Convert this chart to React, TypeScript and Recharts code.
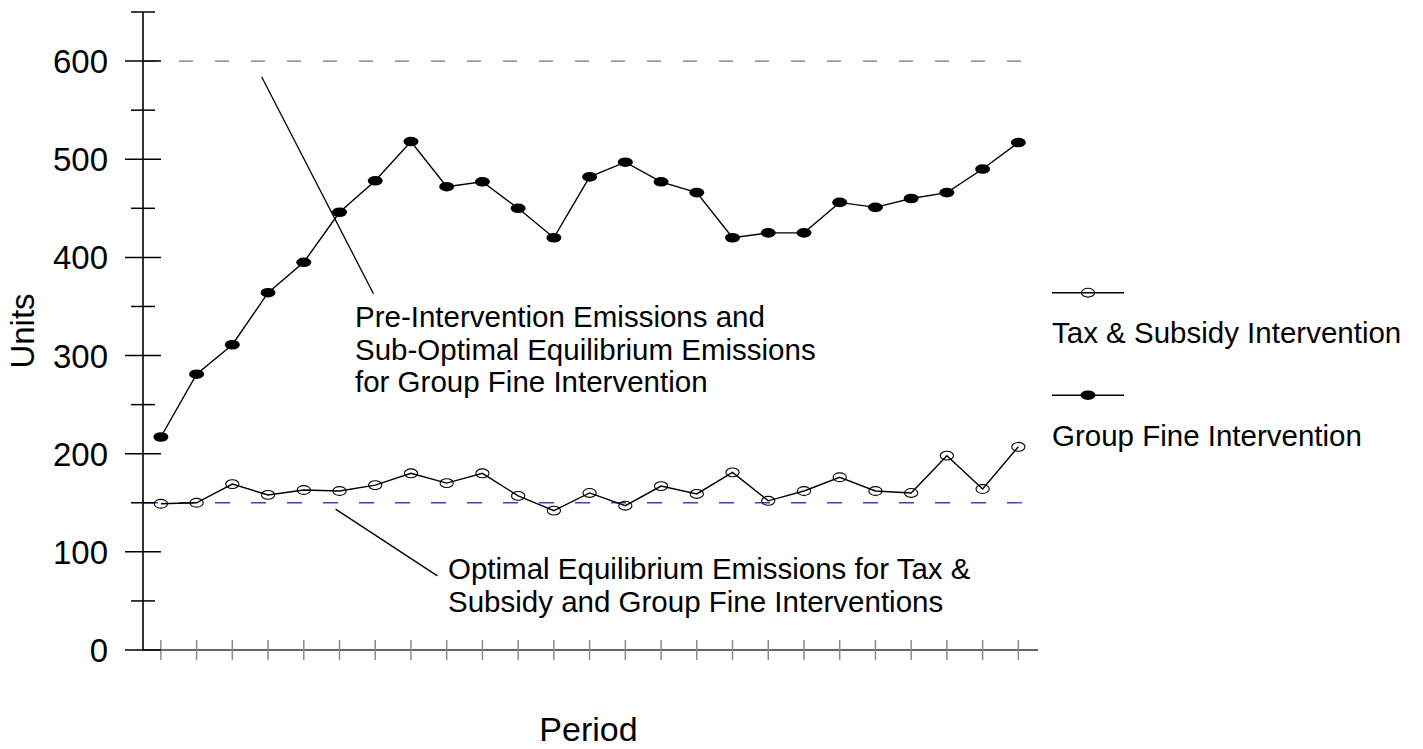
import React from "react";
import {
  LineChart,
  Line,
  XAxis,
  YAxis,
  ReferenceLine,
  Legend,
} from "recharts";

// values
const PERIODS = [
  1, 2, 3, 4, 5, 6, 7, 8, 9, 10, 11, 12, 13, 14, 15, 16, 17, 18, 19, 20, 21,
  22, 23, 24, 25,
];
const TAX_SUBSIDY = [
  149, 150, 169, 158, 163, 162, 168, 180, 170, 180, 157, 142, 160, 147, 167,
  159, 181, 152, 162, 176, 162, 160, 198, 164, 207,
];
const GROUP_FINE = [
  217, 281, 311, 364, 395, 446, 478, 518, 472, 477, 450, 420, 482, 497, 477,
  466, 420, 425, 425, 456, 451, 460, 466, 490, 517,
];
const Y_TICKS = [0, 50, 100, 150, 200, 250, 300, 350, 400, 450, 500, 550, 600, 650];
const PRE_INTERVENTION = 600;
const OPTIMAL_EQUILIBRIUM = 150;

const FONT = "'Liberation Sans', Arial, Helvetica, sans-serif";
const BLUE_DASH = "#3c3cc4";
const GREY_DASH = "#737373";

const data = PERIODS.map((p, i) => ({
  period: p,
  tax: TAX_SUBSIDY[i],
  fine: GROUP_FINE[i],
}));

const SERIES = [
  { key: "tax", name: "Tax & Subsidy Intervention", filled: false },
  { key: "fine", name: "Group Fine Intervention", filled: true },
];

function Marker({ cx, cy, filled }: any) {
  if (cx == null || cy == null) return null;
  return filled ? (
    <ellipse cx={cx} cy={cy} rx={7.5} ry={4.8} fill="#000" />
  ) : (
    <ellipse cx={cx} cy={cy} rx={6.6} ry={4.4} fill="none" stroke="#000" strokeWidth={1.1} />
  );
}

function YTick({ x, y, payload }: any) {
  const v = payload.value;
  const major = v % 100 === 0 && v <= 600;
  const half = major ? 18 : 12;
  return (
    <g>
      <line x1={x - half} x2={x + half} y1={y} y2={y} stroke="#000" strokeWidth={1.5} />
      {major && (
        <text
          x={x - 35}
          y={y + 12}
          textAnchor="end"
          fontSize={33}
          fontFamily={FONT}
          fill="#000"
        >
          {v}
        </text>
      )}
    </g>
  );
}

function XTick({ x, y }: any) {
  return <line x1={x} x2={x} y1={y - 10} y2={y + 10} stroke="#8a8a8a" strokeWidth={1.5} />;
}

function renderLegend() {
  return (
    <svg width={383} height={200}>
      {SERIES.map((s, i) => {
        const ly = 22.7 + i * 102.5;
        return (
          <g key={s.key}>
            <line x1={12} x2={84} y1={ly} y2={ly} stroke="#000" strokeWidth={1.4} />
            <Marker cx={48} cy={ly} filled={s.filled} />
            <text x={12} y={ly + 50.5} fontSize={29.5} fontFamily={FONT} fill="#000">
              {s.name}
            </text>
          </g>
        );
      })}
    </svg>
  );
}

export default function App() {
  return (
    <div style={{ position: "absolute", left: 0, top: 0, background: "#fff" }}>
      <LineChart
        width={1423}
        height={749}
        data={data}
        margin={{ top: 12, right: 385, left: 0, bottom: 0 }}
      >
        <XAxis
          dataKey="period"
          type="number"
          domain={[0.5, 25.55]}
          ticks={PERIODS}
          interval={0}
          tickSize={0}
          tickMargin={0}
          tick={<XTick />}
          height={99}
          axisLine={{ stroke: "#333", strokeWidth: 1.6 }}
          label={(props: any) => {
            const vb = props.viewBox;
            return (
              <text
                x={vb.x + vb.width / 2 - 2}
                y={vb.y + 91}
                textAnchor="middle"
                fontSize={34}
                fontFamily={FONT}
                fill="#000"
              >
                Period
              </text>
            );
          }}
        />
        <YAxis
          type="number"
          domain={[0, 650]}
          ticks={Y_TICKS}
          interval={0}
          width={143}
          tickSize={0}
          tickMargin={0}
          tick={<YTick />}
          axisLine={{ stroke: "#000", strokeWidth: 1.6 }}
          label={(props: any) => {
            const vb = props.viewBox;
            const cx = vb.x + 22;
            const cy = vb.y + vb.height / 2;
            return (
              <text
                x={cx}
                y={cy}
                transform={`rotate(-90 ${cx} ${cy})`}
                textAnchor="middle"
                dominantBaseline="central"
                fontSize={33}
                fontFamily={FONT}
                fill="#000"
              >
                Units
              </text>
            );
          }}
        />
        <ReferenceLine
          y={PRE_INTERVENTION}
          stroke={GREY_DASH}
          strokeWidth={1.3}
          strokeDasharray="14 22"
        />
        <ReferenceLine
          y={OPTIMAL_EQUILIBRIUM}
          stroke={BLUE_DASH}
          strokeWidth={1.3}
          strokeDasharray="15 21"
        />
        {/* annotation leader lines */}
        <ReferenceLine
          segment={[
            { x: 3.82, y: 584 },
            { x: 6.95, y: 363 },
          ]}
          stroke="#000"
          strokeWidth={1.3}
        />
        <ReferenceLine
          segment={[
            { x: 5.89, y: 143.5 },
            { x: 8.74, y: 75.5 },
          ]}
          stroke="#000"
          strokeWidth={1.3}
        />
        {SERIES.map((s) => (
          <Line
            key={s.key}
            dataKey={s.key}
            name={s.name}
            type="linear"
            stroke="#000"
            strokeWidth={1.4}
            dot={(p: any) => <Marker key={p.index} cx={p.cx} cy={p.cy} filled={s.filled} />}
            activeDot={false}
            isAnimationActive={false}
          />
        ))}
        <Legend
          layout="horizontal"
          verticalAlign="middle"
          align="center"
          content={renderLegend}
          wrapperStyle={{ position: "absolute", left: 1040, top: 270, width: 383, height: 200 }}
        />
      </LineChart>
      <svg
        width={1423}
        height={749}
        style={{ position: "absolute", left: 0, top: 0, pointerEvents: "none" }}
        fontFamily={FONT}
        fontSize={29.5}
        fill="#000"
      >
        <text x={355} y={327}>Pre-Intervention Emissions and</text>
        <text x={355} y={360}>Sub-Optimal Equilibrium Emissions</text>
        <text x={355} y={392}>for Group Fine Intervention</text>
        <text x={448} y={579}>Optimal Equilibrium Emissions for Tax &amp;</text>
        <text x={448} y={612}>Subsidy and Group Fine Interventions</text>
      </svg>
    </div>
  );
}
